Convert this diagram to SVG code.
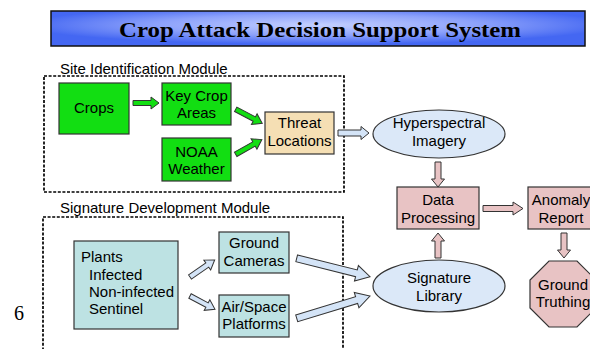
<svg xmlns="http://www.w3.org/2000/svg" width="590" height="349" viewBox="0 0 590 349">
<defs>
<radialGradient id="titleGrad" cx="50%" cy="40%" r="55%">
<stop offset="0%" stop-color="#c4d0ff"/>
<stop offset="55%" stop-color="#8da2fb"/>
<stop offset="100%" stop-color="#4467f2"/>
</radialGradient>
<style>
.t{font-family:"Liberation Sans",Arial,sans-serif;font-size:15px;fill:#000;text-anchor:middle}
.tl{font-family:"Liberation Sans",Arial,sans-serif;font-size:15px;fill:#000}
.mod{fill:none;stroke:#000;stroke-width:1.7;stroke-dasharray:3 1.6}
.green{fill:#12de12;stroke:#333;stroke-width:1.2}
.tan{fill:#f5dfb4;stroke:#333;stroke-width:1.2}
.pink{fill:#e8c3c4;stroke:#333;stroke-width:1.2}
.teal{fill:#bde2e3;stroke:#333;stroke-width:1.2}
.ell{fill:#dbe8f8;stroke:#333;stroke-width:1.2}
.ag{fill:#12de12;stroke:#333;stroke-width:1}
.ab{fill:#d4e4f7;stroke:#333;stroke-width:1}
.ap{fill:#e8c3c4;stroke:#333;stroke-width:1}
</style>
</defs>
<rect width="590" height="349" fill="#fff"/>

<g id="title">
<rect x="51" y="11" width="534" height="35" fill="url(#titleGrad)" stroke="#111" stroke-width="1.5"/>
<text x="320" y="37" font-family="'Liberation Serif','Times New Roman',serif" font-size="21" font-weight="bold" text-anchor="middle" textLength="402" lengthAdjust="spacingAndGlyphs">Crop Attack Decision Support System</text>
</g>

<g id="site-module">
<rect class="mod" x="44" y="76" width="300" height="116"/>
<text class="tl" x="60" y="74">Site Identification Module</text>
</g>

<g id="signature-module">
<path class="mod" d="M43,355 V217 H343 V355"/>
<text class="tl" x="60" y="213">Signature Development Module</text>
</g>

<g id="crops">
<rect class="green" x="59" y="83" width="70" height="51"/>
<text class="t" x="94" y="113">Crops</text>
</g>

<g id="key-crop-areas">
<rect class="green" x="162" y="83" width="69" height="42"/>
<text class="t" x="196.5" y="101">Key Crop</text>
<text class="t" x="196.5" y="118">Areas</text>
</g>

<g id="noaa-weather">
<rect class="green" x="162" y="138" width="69" height="43"/>
<text class="t" x="196.5" y="157">NOAA</text>
<text class="t" x="196.5" y="174">Weather</text>
</g>

<g id="threat-locations">
<rect class="tan" x="265" y="112" width="69" height="42"/>
<text class="t" x="299.5" y="128">Threat</text>
<text class="t" x="299.5" y="146">Locations</text>
</g>

<g id="hyperspectral-imagery">
<ellipse class="ell" cx="439" cy="134" rx="66" ry="24"/>
<text class="t" x="439" y="128">Hyperspectral</text>
<text class="t" x="439" y="146">Imagery</text>
</g>

<g id="data-processing">
<rect class="pink" x="397" y="187" width="82" height="42"/>
<text class="t" x="438" y="205">Data</text>
<text class="t" x="438" y="223">Processing</text>
</g>

<g id="anomaly-report">
<rect class="pink" x="528" y="187" width="66" height="42"/>
<text class="t" x="561" y="205">Anomaly</text>
<text class="t" x="561" y="223">Report</text>
</g>

<g id="ground-truthing">
<polygon class="pink" points="549,261 577,261 596,280 596,308 577,327 549,327 530,308 530,280"/>
<text class="t" x="563" y="290">Ground</text>
<text class="t" x="563" y="307">Truthing</text>
</g>

<g id="signature-library">
<ellipse class="ell" cx="439" cy="286" rx="66" ry="26"/>
<text class="t" x="439" y="283">Signature</text>
<text class="t" x="439" y="301">Library</text>
</g>

<g id="plants">
<rect class="teal" x="74" y="241" width="104" height="88"/>
<text class="tl" x="81" y="262" font-size="16">Plants</text>
<text class="tl" x="89" y="280">Infected</text>
<text class="tl" x="89" y="297">Non-infected</text>
<text class="tl" x="89" y="314">Sentinel</text>
</g>

<g id="ground-cameras">
<rect class="teal" x="219" y="232" width="70" height="41"/>
<text class="t" x="254" y="248">Ground</text>
<text class="t" x="254" y="266">Cameras</text>
</g>

<g id="air-space-platforms">
<rect class="teal" x="219" y="295" width="70" height="42"/>
<text class="t" x="254" y="312">Air/Space</text>
<text class="t" x="254" y="329">Platforms</text>
</g>

<g id="page-number">
<text x="19" y="320" font-family="'Liberation Serif','Times New Roman',serif" font-size="20" text-anchor="middle">6</text>
</g>

<g id="connectors">
<polygon class="ag" transform="translate(133,103)" points="0,-2.5 18,-2.5 18,-6 26,0 18,6 18,2.5 0,2.5"/>
<polygon class="ag" transform="translate(235.7,109.3) rotate(27.8)" points="0,-2.5 21,-2.5 21,-6 30,0 21,6 21,2.5 0,2.5"/>
<polygon class="ag" transform="translate(235.7,154.3) rotate(-29.4)" points="0,-2.5 21,-2.5 21,-6 30,0 21,6 21,2.5 0,2.5"/>
<polygon class="ab" transform="translate(338,133)" points="0,-3 23,-3 23,-6.5 31,0 23,6.5 23,3 0,3"/>
<polygon class="ap" transform="translate(438,162) rotate(90)" points="0,-3 17,-3 17,-6.5 25,0 17,6.5 17,3 0,3"/>
<polygon class="ap" transform="translate(438,258) rotate(-90)" points="0,-3 17,-3 17,-6.5 25,0 17,6.5 17,3 0,3"/>
<polygon class="ap" transform="translate(483,208.5)" points="0,-3 30,-3 30,-6.5 40,0 30,6.5 30,3 0,3"/>
<polygon class="ap" transform="translate(564,233) rotate(90)" points="0,-3 17,-3 17,-6.5 25,0 17,6.5 17,3 0,3"/>
<polygon class="ab" transform="translate(190,277) rotate(-34.7)" points="0,-2.5 21,-2.5 21,-6 30,0 21,6 21,2.5 0,2.5"/>
<polygon class="ab" transform="translate(190,296) rotate(28)" points="0,-2.5 19.3,-2.5 19.3,-6 28.3,0 19.3,6 19.3,2.5 0,2.5"/>
<polygon class="ab" transform="translate(296.7,258.3) rotate(14.1)" points="0,-3.5 61.6,-3.5 61.6,-8 75.6,0 61.6,8 61.6,3.5 0,3.5"/>
<polygon class="ab" transform="translate(296.7,318.3) rotate(-16.9)" points="0,-3.5 62.6,-3.5 62.6,-8 76.6,0 62.6,8 62.6,3.5 0,3.5"/>
</g>
</svg>
